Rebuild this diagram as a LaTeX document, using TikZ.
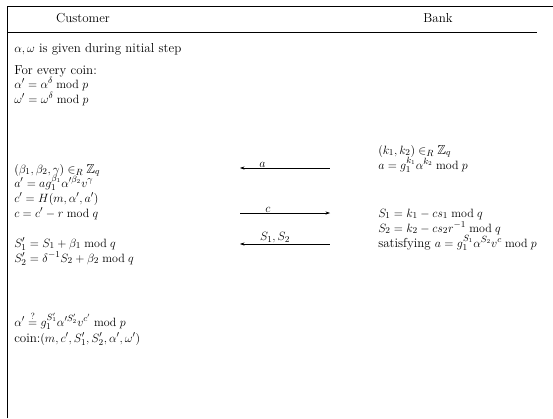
\documentclass[tikz,border=0pt]{standalone}
\usetikzlibrary{arrows.meta,calc}
\usepackage{amsmath}
\usepackage{amssymb}
\tikzset{
  txt/.style={anchor=base west,inner sep=0},
  head/.style={anchor=base,inner sep=0},
  lbl/.style={above,inner sep=0.6pt}}
% message arrow between the two columns
\newcommand\msg[5]{%
  \coordinate (#1L) at (240,#2);
  \coordinate (#1R) at (330,#2);
  \draw[#3] (#1L) -- node[lbl,pos=#5] {#4} (#1R);}

\begin{document}
\begin{tikzpicture}[x=1pt,y=-1pt,line width=0.5pt,>={Stealth[length=4.5pt,width=3.2pt]},
  every node/.style={font=\fontsize{13}{15}\selectfont}]
\useasboundingbox (0,0) rectangle (553,418);
% frame
\draw[line width=0.7] (7,418) -- (7,6) -- (553,6);
\draw[line width=0.7] (7,32) -- (537,32);
\node[head] (cust) at (83,22) {Customer};
\node[head] (bank) at (438,22) {Bank};
% customer side
\node[txt] (init) at (14,52) {$\alpha,\omega$ is given during nitial step};
\node[txt] (every) at (14,74) {For every coin:};
\node[txt] (alph) at (14,88) {$\alpha' = \alpha^{\delta} \bmod p$};
\node[txt] (omeg) at (14,103) {$\omega' = \omega^{\delta} \bmod p$};
\node[txt] (beta) at (14,173) {$(\beta_1,\beta_2,\gamma) \in_R \mathbb{Z}_q$};
\node[txt] (aprm) at (14,187) {$a' = a g_1^{\beta_1} \alpha'^{\beta_2} v^{\gamma}$};
\node[txt] (cprm) at (14,202) {$c' = H(m,\alpha',a')$};
\node[txt] (chal) at (14,217) {$c = c' - r \bmod q$};
\node[txt] (sone) at (14,247) {$S_1' = S_1 + \beta_1 \bmod q$};
\node[txt] (stwo) at (14,262) {$S_2' = \delta^{-1} S_2 + \beta_2 \bmod q$};
\node[txt] (check) at (14,326) {$\alpha' \stackrel{?}{=} g_1^{S_1'} \alpha'^{S_2'} v^{c'} \bmod p$};
\node[txt] (coin) at (14,342) {coin:$(m,c',S_1',S_2',\alpha',\omega')$};
% bank side
\node[txt] (kk) at (378,154) {$(k_1,k_2) \in_R \mathbb{Z}_q$};
\node[txt] (acom) at (378,169) {$a = g_1^{k_1} \alpha^{k_2} \bmod p$};
\node[txt] (bsone) at (378,217) {$S_1 = k_1 - c s_1 \bmod q$};
\node[txt] (bstwo) at (378,232) {$S_2 = k_2 - c s_2 r^{-1} \bmod q$};
\node[txt] (sat) at (378,247) {satisfying $a = g_1^{S_1} \alpha^{S_2} v^{c} \bmod p$};
% messages
\msg{ma}{168}{<-}{$a$}{0.25}
\msg{mc}{213}{->}{$c$}{0.31}
\msg{ms}{244}{<-}{$S_1,S_2$}{0.39}
\end{tikzpicture}
\end{document}
